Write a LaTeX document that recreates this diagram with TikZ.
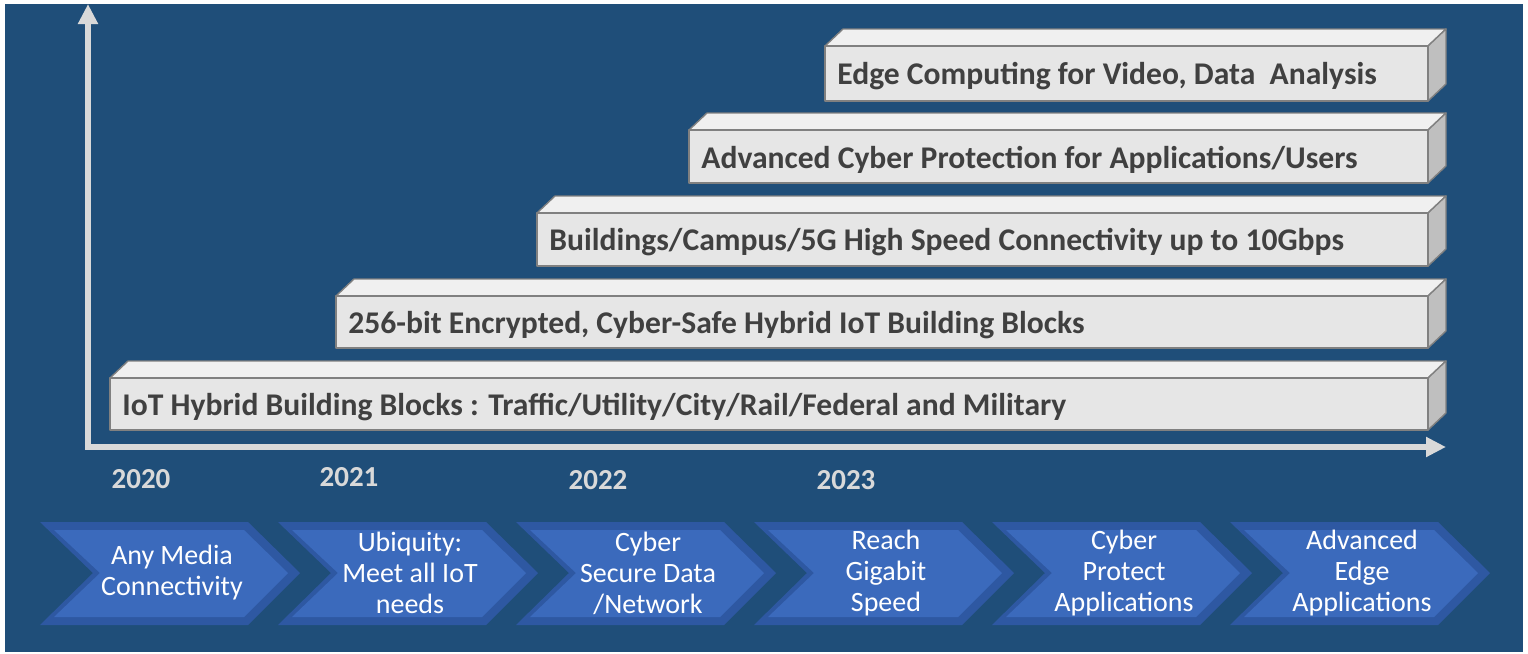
\documentclass[tikz,border=0pt]{standalone}
\usepackage{fontspec}
\setmainfont{Carlito}
\usepackage{tikz}
\usetikzlibrary{arrows.meta,calc}
\usepackage{xcolor}
\definecolor{bgblue}{RGB}{31,78,121}
\definecolor{chevfill}{RGB}{59,106,188}
\definecolor{chevedge}{RGB}{46,88,162}
\definecolor{barfront}{RGB}{230,230,230}
\definecolor{bartop}{RGB}{240,240,240}
\definecolor{barside}{RGB}{191,191,191}
\definecolor{barline}{RGB}{128,128,128}
\definecolor{bartextcol}{RGB}{64,64,64}
\definecolor{axisgrey}{RGB}{217,217,217}

\tikzset{
  barface/.style={fill=#1, draw=barline, line width=0.7pt, line join=round},
  barlabel/.style={anchor=west, inner sep=0pt, text=bartextcol,
    font=\fontsize{15.8}{18}\selectfont\bfseries},
  yearlabel/.style={text=axisgrey, font=\fontsize{14.5}{16}\selectfont\bfseries},
  chevlabel/.style={text=white, align=center, inner sep=0pt,
    font=\fontsize{14}{15.5}\selectfont},
  axisline/.style={draw=axisgrey, line width=3pt,
    -{Triangle[width=9.5pt,length=10pt]}}
}

\begin{document}
\begin{tikzpicture}[x=0.5pt, y=-0.5pt]
    \useasboundingbox (0,0) rectangle (1528,654);
    % Background panel
    \fill[bgblue] (5,4) rectangle (1523,652);

    % Axes
    \coordinate (origin) at (88,447);
    \coordinate (ytop) at (88,4);
    \coordinate (xend) at (1446,447);
    \draw[axisline] (origin) -- (ytop);
    \draw[axisline] ([xshift=-1.5pt]origin) -- (xend);

    % Stacked 3D bars (front left, front top, front bottom)
    \foreach \nm/\bl/\bt/\bb/\txt in {
        iot/110/378/430/{IoT Hybrid Building Blocks : Traffic/Utility/City/Rail/Federal and Military},
        crypt/336/296/348/{256-bit Encrypted, Cyber-Safe Hybrid IoT Building Blocks},
        speed/537/213/266/{Buildings/Campus/5G High Speed Connectivity up to 10Gbps},
        cyber/689/130/183/{Advanced Cyber Protection for Applications/Users},
        edge/825/46/101/{Edge Computing for Video, Data\ \ Analysis}} {
        \draw[barface=bartop] (\bl,\bt) -- (\bl+18,\bt-17) -- (1446,\bt-17) -- (1428,\bt) -- cycle;
        \draw[barface=barside] (1428,\bt) -- (1446,\bt-17) -- (1446,\bb-17) -- (1428,\bb) -- cycle;
        \draw[barface=barfront] (\bl,\bt) rectangle (1428,\bb);
        \node[barlabel] (bar-\nm) at (\bl+12, {(\bt+\bb)/2+3}) {\txt};
    }

    % Years
    \node[yearlabel] (y2020) at (141,479) {2020};
    \node[yearlabel] (y2021) at (349,477) {2021};
    \node[yearlabel] (y2022) at (598,480) {2022};
    \node[yearlabel] (y2023) at (846,480) {2023};

    % Chevron process steps
    \foreach \i/\txt in {
        1/{Any Media\\Connectivity},
        2/{Ubiquity:\\Meet all IoT\\needs},
        3/{Cyber\\Secure Data\\/Network},
        4/{Reach\\Gigabit\\Speed},
        5/{Cyber\\Protect\\Applications},
        6/{Advanced\\Edge\\Applications}} {
        \pgfmathsetmacro{\cl}{40+(\i-1)*238}
        \fill[chevedge] (\cl,522) -- (\cl+208,522) -- (\cl+260,573) -- (\cl+208,625)
            -- (\cl,625) -- (\cl+53,573) -- cycle;
        \fill[chevfill] (\cl+14,530) -- (\cl+204,530) -- (\cl+248,573) -- (\cl+204,617)
            -- (\cl+14,617) -- (\cl+60,573) -- cycle;
        \node[chevlabel] (chev\i) at (\cl+132,573) {\txt};
    }
\end{tikzpicture}
\end{document}
